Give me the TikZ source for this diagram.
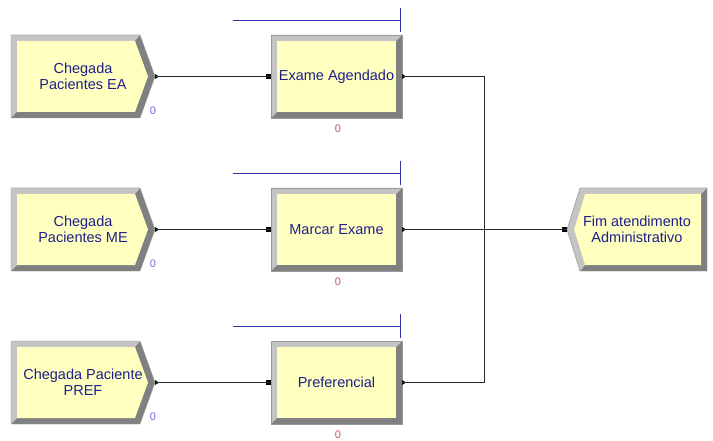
\documentclass[tikz,border=0pt]{standalone}
\usepackage{fontspec}
\setmainfont{Liberation Sans}
\definecolor{bevlight}{RGB}{196,196,196}
\definecolor{bevdark}{RGB}{128,128,128}
\definecolor{modfill}{RGB}{255,255,192}
\definecolor{txtblue}{RGB}{30,30,140}
\definecolor{cntblue}{RGB}{110,110,220}
\definecolor{cntred}{RGB}{190,90,90}
\definecolor{resblue}{RGB}{50,50,170}
\definecolor{linegray}{RGB}{40,40,40}
\tikzset{
  modtext/.style={text=txtblue, align=center, font=\fontsize{14.5}{16}\selectfont, inner sep=0pt},
  cnttext/.style={font=\fontsize{11}{12}\selectfont, inner sep=0pt},
  conn/.style={draw=linegray, line width=0.9pt},
  resline/.style={draw=resblue, line width=0.9pt},
  edge/.style={draw=bevdark!80, line width=0.4pt}
}
\newcommand\arcreate[4]{% name, x, y, text
  \begin{scope}[shift={(#2,#3)}]
    \fill[bevdark] (0,0)--(129,0)--(144,41.5)--(129,83)--(0,83)--cycle;
    \fill[bevlight] (0,0)--(129,0)--(124,6)--(6,6)--(6,77)--(0,83)--cycle;
    \fill[modfill] (6,6)--(124,6)--(137,41.5)--(124,77)--(6,77)--cycle;
    \draw[edge] (0,0)--(129,0)--(144,41.5)--(129,83)--(0,83)--cycle;
    \node[modtext] (#1) at (72,41.5) {#4};
    \coordinate (#1out) at (144,41.5);
    \fill[black] (144,39)--(148,41.5)--(144,44)--cycle;
    \node[cnttext, text=cntblue] (#1cnt) at (142,76) {0};
  \end{scope}}
\newcommand\arprocess[4]{% name, x, y, text
  \begin{scope}[shift={(#2,#3)}]
    \fill[bevdark] (0,0) rectangle (131,83);
    \fill[bevlight] (0,0)--(131,0)--(125,6)--(6,6)--(6,77)--(0,83)--cycle;
    \fill[modfill] (6,6) rectangle (125,77);
    \draw[edge] (0,0) rectangle (131,83);
    \node[modtext] (#1) at (65.5,41.5) {#4};
    \coordinate (#1in) at (0,41.5);
    \coordinate (#1out) at (131,41.5);
    \coordinate (#1ra) at (-38,-15);
    \coordinate (#1rb) at (129,-15);
    \coordinate (#1rt) at (129,-27);
    \coordinate (#1rd) at (129,-3);
    \draw[resline] (#1ra) -- (#1rb);
    \draw[resline] (#1rt) -- (#1rd);
    \fill[black] (-5,39) rectangle (0,44);
    \fill[black] (131,39)--(135,41.5)--(131,44)--cycle;
    \node[cnttext, text=cntred] (#1cnt) at (67,94) {0};
  \end{scope}}
\begin{document}
\begin{tikzpicture}[x=1pt,y=-1pt]
  \useasboundingbox (0,0) rectangle (713,441);
  \fill[white] (0,0) rectangle (713,441);
  % create modules
  \arcreate{c1}{11}{35}{Chegada\\Pacientes EA}
  \arcreate{c2}{11}{188}{Chegada\\Pacientes ME}
  \arcreate{c3}{11}{341}{Chegada Paciente\\PREF}
  % process modules
  \arprocess{p1}{271}{35}{Exame Agendado}
  \arprocess{p2}{271}{188}{Marcar Exame}
  \arprocess{p3}{271}{341}{Preferencial}
  % dispose module
  \begin{scope}[shift={(567,188)}]
    \fill[bevdark] (13,0)--(140,0)--(140,83)--(13,83)--(0,41.5)--cycle;
    \fill[bevlight] (0,41.5)--(13,0)--(140,0)--(134,6)--(18,6)--(7,41.5)--(18,77)--(13,83)--cycle;
    \fill[modfill] (18,6)--(134,6)--(134,77)--(18,77)--(7,41.5)--cycle;
    \draw[edge] (13,0)--(140,0)--(140,83)--(13,83)--(0,41.5)--cycle;
    \node[modtext] (d) at (70,41.5) {Fim atendimento\\Administrativo};
    \coordinate (din) at (0,41.5);
    \fill[black] (-5,39) rectangle (0,44);
  \end{scope}
  \coordinate (j) at (484,229.5);
  % connectors
  \draw[conn] (c1out) -- (p1in);
  \draw[conn] (c2out) -- (p2in);
  \draw[conn] (c3out) -- (p3in);
  \draw[conn] (p1out) -| (j);
  \draw[conn] (p3out) -| (j);
  \draw[conn] (p2out) -- (din);
\end{tikzpicture}
\end{document}
